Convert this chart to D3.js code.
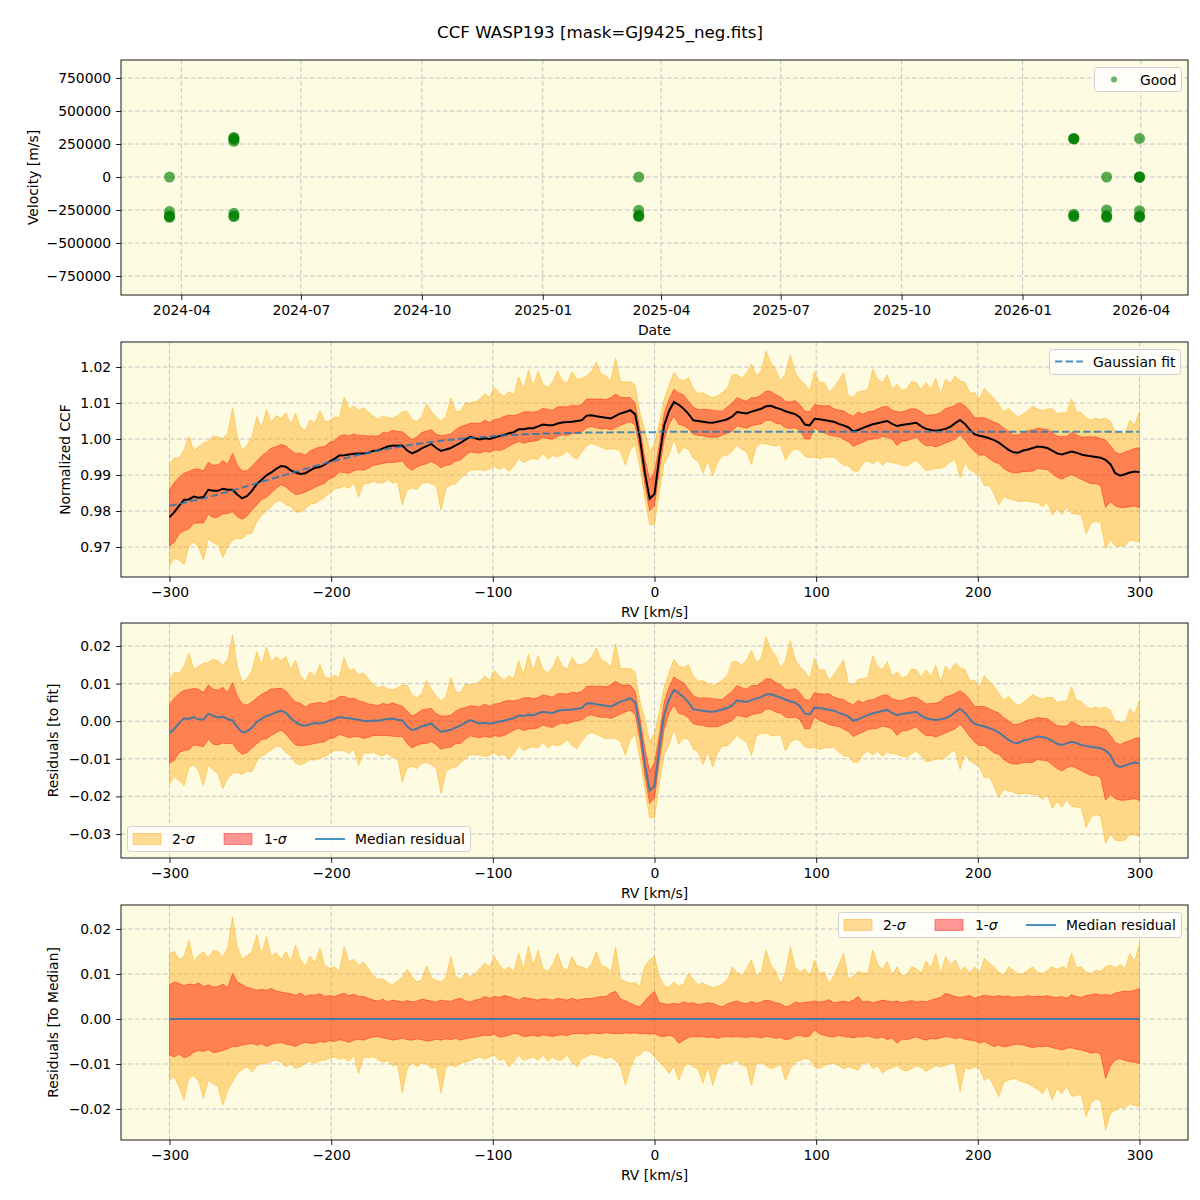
<!DOCTYPE html>
<html>
<head>
<meta charset="utf-8">
<script src="https://cdn.jsdelivr.net/npm/d3@7"></script>
<style>
  body { margin: 0; background: #fff; }
  text { font-family: "DejaVu Sans", sans-serif; }
</style>
</head>
<body>
<svg id="chart" width="1200" height="1200"></svg>
<script>
// ---- data ----

// panel 1: observations (date, velocity m/s)
const obsDate = [
  "2024-03-23","2024-03-23","2024-03-23","2024-03-23","2024-03-23",
  "2024-05-11","2024-05-11","2024-05-11","2024-05-11","2024-05-11","2024-05-11","2024-05-11",
  "2025-03-15","2025-03-15","2025-03-15","2025-03-15","2025-03-15",
  "2026-02-09","2026-02-09","2026-02-09","2026-02-09","2026-02-09","2026-02-09",
  "2026-03-06","2026-03-06","2026-03-06","2026-03-06","2026-03-06",
  "2026-03-31","2026-03-31","2026-03-31","2026-03-31","2026-03-31","2026-03-31","2026-03-31","2026-03-31"
];
const obsVel = [
  0, -262000, -300000, -305000, -295000,
  270000, 293000, 300000, 285000, -275000, -300000, -295000,
  0, -252000, -300000, -295000, -290000,
  290000, 292000, 288000, -282000, -300000, -296000,
  0, -250000, -300000, -292000, -305000,
  292000, 0, 0, 0, -255000, -300000, -296000, -304000
];

// RV grid [km/s], one sample every 3 km/s from -300 to 300
const rv = d3.range(-300, 301, 3);

// Gaussian fit: depth below the 1.002 continuum, units of 1e-4
const fitTop = 1.002;
const fitDepth = [
  205,203,200,197,194,191,188,185,181,178,
  174,170,167,163,159,155,151,147,143,139,
  135,131,127,123,119,115,111,107,103,99,
  95,92,88,84,81,77,74,71,67,64,
  61,58,55,53,50,47,45,43,40,38,
  36,34,32,30,28,27,25,23,22,21,
  19,18,17,16,15,14,13,12,11,10,
  9,9,8,7,7,6,6,5,5,4,
  4,4,3,3,3,3,2,2,2,2,
  2,2,1,1,1,1,1,1,1,1,
  1,0,0,0,0,0,0,0,0,0,
  0,0,0,0,0,0,0,0,0,0,
  0,0,0,0,0,0,0,0,0,0,
  0,0,0,0,0,0,0,0,0,0,
  0,0,0,0,0,0,0,0,0,0,
  0,0,0,0,0,0,0,0,0,0,
  0,0,0,0,0,0,0,0,0,0,
  0,0,0,0,0,0,0,0,0,0,
  0,0,0,0,0,0,0,0,0,0,
  0,0,0,0,0,0,0,0,0,0,
  0
];

// median residual to the fit, units of 1e-4
const medRes = [
  -32,-20,-5,8,6,11,5,4,20,14,
  10,12,6,2,-16,-30,-27,-17,-2,6,
  14,18,24,28,22,8,-2,-10,-12,-8,
  -5,-6,-3,2,6,11,9,8,6,4,
  1,0,2,1,4,6,7,4,2,-14,
  -24,-20,-14,-10,-6,-18,-28,-26,-23,-17,
  -12,-4,3,-2,-6,-4,-7,-4,-1,1,
  5,8,15,14,17,16,21,25,23,22,
  27,30,30,31,33,35,47,48,45,43,
  41,39,45,52,56,61,50,-18,-112,-185,
  -172,-70,18,58,83,75,64,50,32,30,
  28,26,25,28,31,35,42,55,53,51,
  56,60,64,71,72,67,63,57,53,49,
  40,20,18,36,35,33,30,28,22,18,
  12,1,5,11,16,21,24,27,30,22,
  16,19,21,23,25,15,8,5,3,5,
  8,14,24,33,22,6,-7,-11,-14,-18,
  -23,-30,-40,-50,-57,-58,-52,-49,-45,-41,
  -42,-45,-52,-60,-63,-59,-55,-58,-63,-66,
  -68,-70,-72,-78,-90,-115,-122,-118,-113,-110,
  -112
];

// band edges relative to the median, units of 1e-4
const up2 = [
  146,150,132,139,175,128,141,150,136,152,
  150,138,158,227,160,133,141,150,187,144,
  183,139,148,132,150,128,164,131,118,140,
  124,157,120,112,116,105,161,126,133,119,
  127,112,96,87,90,80,76,84,94,110,
  94,82,87,118,91,86,82,92,139,95,
  88,102,94,101,112,124,116,139,120,108,
  116,104,146,110,161,118,153,112,106,120,
  146,116,108,139,117,116,110,121,150,119,
  116,105,160,88,84,79,81,72,118,131,
  139,95,74,70,82,72,78,101,88,76,
  80,74,70,72,78,86,116,104,96,112,
  132,96,104,153,120,106,78,104,161,116,
  104,112,95,131,101,104,79,96,121,146,
  87,96,106,102,101,153,121,110,128,97,
  116,96,98,116,112,102,129,114,146,98,
  139,120,131,108,116,101,116,102,135,124,
  116,104,96,116,108,100,101,109,116,104,
  101,108,116,110,116,112,146,114,116,104,
  101,108,106,116,120,113,121,112,146,128,
  168
];
const up1 = [
  76,82,79,74,78,76,80,72,76,71,
  72,78,70,101,82,76,70,68,64,66,
  64,68,62,60,58,56,53,58,50,54,
  53,56,50,52,50,54,57,52,55,50,
  50,46,42,40,44,38,42,40,38,41,
  38,40,44,42,40,38,42,40,39,44,
  46,40,38,42,44,50,46,50,48,52,
  50,46,42,48,46,44,42,45,44,42,
  46,44,42,46,42,44,46,45,48,50,
  50,58,61,45,40,35,30,27,40,52,
  61,36,34,32,35,33,38,35,36,32,
  34,36,35,30,27,34,37,40,36,34,
  39,35,38,42,40,36,34,27,30,38,
  35,37,38,40,38,39,43,36,38,40,
  37,42,50,38,40,36,39,42,40,38,
  40,36,39,41,38,40,38,42,45,48,
  57,54,50,48,50,52,46,50,53,51,
  50,52,50,51,48,50,49,52,50,51,
  50,52,49,48,50,46,54,50,48,52,
  54,56,53,55,52,58,60,62,61,64,
  68
];
const lo1 = [
  -80,-84,-78,-86,-82,-74,-70,-72,-68,-75,
  -73,-70,-66,-61,-61,-58,-56,-54,-58,-55,
  -61,-56,-54,-52,-56,-58,-61,-55,-52,-54,
  -54,-50,-52,-48,-50,-46,-48,-52,-47,-45,
  -47,-43,-40,-39,-42,-44,-47,-45,-43,-46,
  -47,-44,-46,-49,-48,-45,-47,-44,-46,-43,
  -47,-44,-42,-40,-38,-36,-37,-34,-40,-39,
  -36,-32,-34,-39,-38,-36,-39,-35,-37,-39,
  -36,-35,-37,-33,-32,-32,-34,-31,-32,-33,
  -30,-32,-32,-33,-31,-32,-31,-33,-32,-34,
  -32,-38,-39,-36,-40,-54,-47,-41,-39,-40,
  -39,-41,-40,-43,-40,-39,-40,-39,-40,-41,
  -39,-40,-42,-39,-40,-43,-41,-46,-44,-38,
  -36,-40,-38,-24,-33,-36,-39,-40,-36,-39,
  -40,-42,-39,-40,-38,-41,-43,-40,-46,-42,
  -54,-45,-46,-43,-40,-44,-47,-43,-45,-42,
  -39,-40,-44,-41,-45,-47,-48,-54,-50,-56,
  -61,-58,-62,-60,-57,-56,-58,-61,-64,-61,
  -62,-60,-64,-66,-69,-65,-64,-67,-69,-72,
  -76,-74,-78,-132,-104,-91,-88,-92,-95,-96,
  -99
];
const lo2 = [
  -136,-128,-152,-180,-130,-126,-138,-176,-136,-144,
  -150,-191,-158,-140,-121,-112,-106,-118,-104,-99,
  -99,-94,-91,-96,-106,-100,-110,-106,-99,-94,
  -99,-92,-91,-88,-84,-90,-86,-94,-80,-121,
  -84,-86,-84,-90,-96,-92,-104,-100,-165,-110,
  -96,-106,-98,-100,-110,-106,-165,-108,-102,-106,
  -99,-96,-92,-88,-84,-90,-84,-80,-92,-88,
  -106,-94,-80,-92,-88,-84,-92,-80,-94,-84,
  -92,-90,-80,-96,-106,-88,-84,-78,-80,-84,
  -88,-84,-92,-106,-147,-110,-84,-80,-69,-72,
  -84,-96,-106,-121,-104,-136,-108,-98,-106,-112,
  -143,-106,-147,-112,-98,-100,-96,-92,-102,-106,
  -147,-100,-96,-104,-110,-106,-100,-136,-110,-96,
  -92,-88,-90,-106,-110,-104,-100,-98,-104,-110,
  -106,-110,-114,-98,-96,-110,-104,-120,-112,-108,
  -104,-112,-116,-110,-104,-108,-116,-110,-104,-106,
  -104,-98,-100,-161,-108,-112,-106,-110,-136,-130,
  -150,-173,-140,-136,-132,-136,-140,-144,-150,-156,
  -166,-150,-180,-154,-166,-150,-172,-170,-168,-217,
  -186,-178,-180,-247,-210,-202,-196,-198,-188,-192,
  -195
];

// ---- layout ----
const svg = d3.select("#chart");
const L = 121, R = 1188, H = 235;
const tops = [60, 342, 623, 905];
const bgCol = "#fdfbe2";
const tickLen = 4.9, tickPad = 4.9;

svg.append("text").attr("x", 600).attr("y", 38).attr("text-anchor", "middle")
  .attr("font-size", 16.7).text("CCF WASP193 [mask=GJ9425_neg.fits]");

const xRV = d3.scaleLinear().domain([-330, 330]).range([L, R]);
const rvTicks = [-300, -200, -100, 0, 100, 200, 300];

function drawPanel(top, x, y, xTicks, xFmt, yTicks, yFmt, xLabel, yLabel, yLabelX) {
  const g = svg.append("g");
  g.append("rect").attr("x", L).attr("y", top).attr("width", R - L).attr("height", H).attr("fill", bgCol);
  // grid
  const grid = g.append("g").attr("stroke", "#c4c4c4")
    .attr("stroke-width", 1).attr("stroke-dasharray", "4.5,2.5");
  xTicks.forEach(t => grid.append("line").attr("x1", x(t)).attr("x2", x(t)).attr("y1", top).attr("y2", top + H));
  yTicks.forEach(t => grid.append("line").attr("x1", L).attr("x2", R).attr("y1", y(t)).attr("y2", y(t)));
  const plot = svg.append("g");
  const over = svg.append("g");
  // frame
  over.append("rect").attr("x", L).attr("y", top).attr("width", R - L).attr("height", H)
    .attr("fill", "none").attr("stroke", "#000").attr("stroke-width", 0.9);
  // axes
  const ax = over.append("g").attr("transform", `translate(0,${top + H})`)
    .call(d3.axisBottom(x).tickValues(xTicks).tickFormat(xFmt).tickSize(tickLen).tickPadding(tickPad));
  const ay = over.append("g").attr("transform", `translate(${L},0)`)
    .call(d3.axisLeft(y).tickValues(yTicks).tickFormat(yFmt).tickSize(tickLen).tickPadding(tickPad));
  [ax, ay].forEach(a => {
    a.select(".domain").remove();
    a.selectAll("text").attr("font-size", 13.9).attr("font-family", "DejaVu Sans").attr("fill", "#000");
    a.selectAll("line").attr("stroke", "#000").attr("stroke-width", 0.9);
  });
  over.append("text").attr("x", (L + R) / 2).attr("y", top + H + 40).attr("text-anchor", "middle")
    .attr("font-size", 13.9).text(xLabel);
  over.append("text").attr("transform", `translate(${yLabelX},${top + H / 2}) rotate(-90)`)
    .attr("text-anchor", "middle").attr("font-size", 13.9).text(yLabel);
  return { plot, over };
}

// ---- panel 1: velocities vs date ----
const parse = d3.utcParse("%Y-%m-%d");
const dates = obsDate.map(parse);
const ext = d3.extent(dates);
const pad = (ext[1] - ext[0]) * 0.05;
const xDate = d3.scaleUtc().domain([new Date(+ext[0] - pad), new Date(+ext[1] + pad)]).range([L, R]);
const yVel = d3.scaleLinear().domain([-893900, 886400]).range([tops[0] + H, tops[0]]);
const dateTicks = xDate.ticks(d3.utcMonth.every(3)).filter(d => d.getUTCMonth() % 3 === 0);
const p1 = drawPanel(tops[0], xDate, yVel, dateTicks, d3.utcFormat("%Y-%m"),
  [-750000, -500000, -250000, 0, 250000, 500000, 750000], d3.format("d"),
  "Date", "Velocity [m/s]", 38);

p1.plot.selectAll("circle").data(obsVel).join("circle")
  .attr("cx", (d, i) => xDate(dates[i])).attr("cy", d => yVel(d)).attr("r", 5.5)
  .attr("fill", "green").attr("fill-opacity", 0.65);

function legendBox(g, x, y, w, h) {
  g.append("rect").attr("x", x).attr("y", y).attr("width", w).attr("height", h).attr("rx", 3)
    .attr("fill", "#fff").attr("fill-opacity", 0.8).attr("stroke", "#d0d0d0").attr("stroke-width", 1);
}
legendBox(p1.over, 1094.5, 67.5, 87, 24);
p1.over.append("circle").attr("cx", 1114).attr("cy", 79.5).attr("r", 3).attr("fill", "green").attr("fill-opacity", 0.6);
p1.over.append("text").attr("x", 1140).attr("y", 84.5).attr("font-size", 13.9).text("Good");

// ---- derived series ----
const fit = fitDepth.map(d => fitTop - d / 1e4);
const ccfMed = medRes.map((d, i) => fit[i] + d / 1e4);

function bands(panel, x, y, center, median, withFitLine) {
  const a2 = d3.area().x((d, i) => x(rv[i])).y0((d, i) => y(center[i] + lo2[i] / 1e4)).y1((d, i) => y(center[i] + up2[i] / 1e4));
  const a1 = d3.area().x((d, i) => x(rv[i])).y0((d, i) => y(center[i] + lo1[i] / 1e4)).y1((d, i) => y(center[i] + up1[i] / 1e4));
  panel.plot.append("path").datum(rv).attr("d", a2)
    .attr("fill", "orange").attr("fill-opacity", 0.4)
    .attr("stroke", "orange").attr("stroke-opacity", 0.4).attr("stroke-width", 1);
  panel.plot.append("path").datum(rv).attr("d", a1)
    .attr("fill", "red").attr("fill-opacity", 0.4)
    .attr("stroke", "red").attr("stroke-opacity", 0.4).attr("stroke-width", 1);
  const ln = d3.line().x((d, i) => x(rv[i])).y(d => y(d));
  if (withFitLine) {
    panel.plot.append("path").datum(median).attr("d", ln)
      .attr("fill", "none").attr("stroke", "#000").attr("stroke-width", 2);
    panel.plot.append("path").datum(fit).attr("d", ln)
      .attr("fill", "none").attr("stroke", "#1f77b4").attr("stroke-opacity", 0.8)
      .attr("stroke-width", 2).attr("stroke-dasharray", "7.4,3.2");
  } else {
    panel.plot.append("path").datum(median).attr("d", ln)
      .attr("fill", "none").attr("stroke", "#1f77b4").attr("stroke-opacity", 0.8).attr("stroke-width", 2);
  }
}

// ---- panel 2: CCF ----
const yCCF = d3.scaleLinear().domain([0.961667, 1.026944]).range([tops[1] + H, tops[1]]);
const p2 = drawPanel(tops[1], xRV, yCCF, rvTicks, d3.format("d"),
  [0.97, 0.98, 0.99, 1.00, 1.01, 1.02], d3.format(".2f"), "RV [km/s]", "Normalized CCF", 70);
bands(p2, xRV, yCCF, ccfMed, ccfMed, true);
legendBox(p2.over, 1049.5, 349.5, 131, 25);
p2.over.append("line").attr("x1", 1055).attr("x2", 1083).attr("y1", 361.5).attr("y2", 361.5)
  .attr("stroke", "#1f77b4").attr("stroke-opacity", 0.8).attr("stroke-width", 2).attr("stroke-dasharray", "7.4,3.2");
p2.over.append("text").attr("x", 1093).attr("y", 366.5).attr("font-size", 13.9).text("Gaussian fit");

// ---- panel 3: residuals to fit ----
const res = medRes.map(d => d / 1e4);
const yRes = d3.scaleLinear().domain([-0.036383, 0.026117]).range([tops[2] + H, tops[2]]);
const p3 = drawPanel(tops[2], xRV, yRes, rvTicks, d3.format("d"),
  [-0.03, -0.02, -0.01, 0, 0.01, 0.02], d3.format(".2f"), "RV [km/s]", "Residuals [to fit]", 58);
bands(p3, xRV, yRes, res, res, false);

// ---- panel 4: residuals to median ----
const zero = rv.map(() => 0);
const yMed = d3.scaleLinear().domain([-0.026889, 0.025333]).range([tops[3] + H, tops[3]]);
const p4 = drawPanel(tops[3], xRV, yMed, rvTicks, d3.format("d"),
  [-0.02, -0.01, 0, 0.01, 0.02], d3.format(".2f"), "RV [km/s]", "Residuals [To Median]", 58);
bands(p4, xRV, yMed, zero, zero, false);

function sigmaLegend(g, x0, y0) {
  legendBox(g, x0 + 0.5, y0 + 0.5, 343, 25);
  const cy = y0 + 13;
  g.append("rect").attr("x", x0 + 6).attr("y", cy - 5.5).attr("width", 28).attr("height", 11)
    .attr("fill", "orange").attr("fill-opacity", 0.4).attr("stroke", "orange").attr("stroke-opacity", 0.4);
  const t1 = g.append("text").attr("x", x0 + 45).attr("y", cy + 5).attr("font-size", 13.9);
  t1.append("tspan").text("2-"); t1.append("tspan").attr("font-style", "italic").text("σ");
  g.append("rect").attr("x", x0 + 97).attr("y", cy - 5.5).attr("width", 28).attr("height", 11)
    .attr("fill", "red").attr("fill-opacity", 0.4).attr("stroke", "red").attr("stroke-opacity", 0.4);
  const t2 = g.append("text").attr("x", x0 + 137).attr("y", cy + 5).attr("font-size", 13.9);
  t2.append("tspan").text("1-"); t2.append("tspan").attr("font-style", "italic").text("σ");
  g.append("line").attr("x1", x0 + 188).attr("x2", x0 + 218).attr("y1", cy).attr("y2", cy)
    .attr("stroke", "#1f77b4").attr("stroke-opacity", 0.8).attr("stroke-width", 2);
  g.append("text").attr("x", x0 + 228).attr("y", cy + 5).attr("font-size", 13.9).text("Median residual");
}
sigmaLegend(p3.over, 127, 826);
sigmaLegend(p4.over, 838, 912);
</script>
</body>
</html>
